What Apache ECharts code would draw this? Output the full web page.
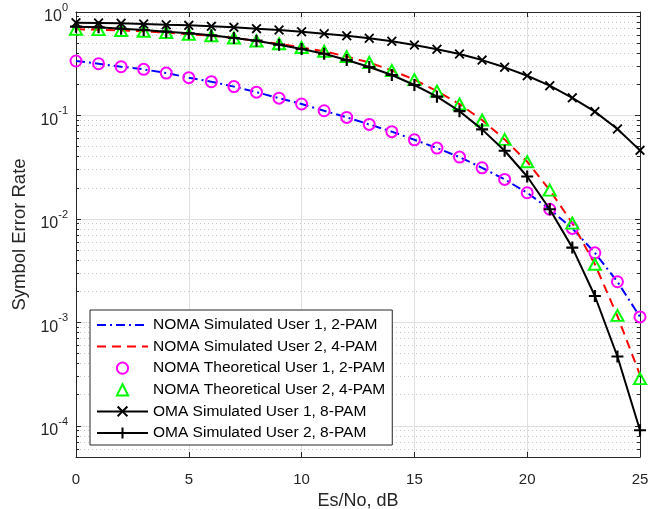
<!DOCTYPE html>
<html>
<head>
<meta charset="utf-8">
<script src="https://cdn.jsdelivr.net/npm/echarts@6/dist/echarts.min.js"></script>
<style>html,body{margin:0;padding:0;background:#fff}#c{width:648px;height:509px}</style>
</head>
<body>
<div id="c"></div>
<script>
const esNo = [0,1,2,3,4,5,6,7,8,9,10,11,12,13,14,15,16,17,18,19,20,21,22,23,24,25];
const xTicks = [0,5,10,15,20,25];
const yTickPowers = [0,-1,-2,-3,-4];

const nomaSimUser1 = [0.336,0.316,0.296,0.279,0.257,0.232,0.212,0.190,0.168,0.147,0.129,0.111,0.0958,0.082,0.0697,0.0582,0.0484,0.0396,0.0312,0.0241,0.0179,0.0124,0.0081,0.0047,0.00247,0.00113];
const nomaSimUser2 = [0.680,0.676,0.662,0.651,0.634,0.610,0.589,0.561,0.525,0.493,0.454,0.417,0.371,0.325,0.272,0.222,0.172,0.129,0.0903,0.0587,0.0357,0.0190,0.0091,0.00365,0.00115,0.00031];
const nomaTheoUser1 = [0.336,0.316,0.296,0.279,0.257,0.232,0.212,0.190,0.168,0.147,0.129,0.111,0.0958,0.082,0.0697,0.0582,0.0484,0.0396,0.0312,0.0241,0.0179,0.0124,0.0081,0.0047,0.00247,0.00113];
const nomaTheoUser2 = [0.680,0.676,0.662,0.651,0.634,0.610,0.589,0.561,0.525,0.493,0.454,0.417,0.371,0.325,0.272,0.222,0.172,0.129,0.0903,0.0587,0.0357,0.0190,0.0091,0.00365,0.00117,0.000286];
const omaUser1 = [0.788,0.783,0.778,0.766,0.754,0.743,0.727,0.711,0.690,0.670,0.645,0.616,0.590,0.557,0.521,0.480,0.436,0.393,0.343,0.292,0.242,0.194,0.148,0.109,0.0739,0.0460];
const omaUser2 = [0.721,0.711,0.690,0.670,0.645,0.622,0.595,0.561,0.528,0.483,0.439,0.395,0.343,0.294,0.246,0.197,0.152,0.110,0.0734,0.0456,0.0257,0.0124,0.00528,0.00180,0.000468,0.0000906];

const names = ['NOMA Simulated User 1, 2-PAM','NOMA Simulated User 2, 4-PAM','NOMA Theoretical User 1, 2-PAM','NOMA Theoretical User 2, 4-PAM','OMA Simulated User 1, 8-PAM','OMA Simulated User 2, 8-PAM'];

const pair = arr => esNo.map((x,i)=>[x,arr[i]]);
const FONT = 'Liberation Sans';
const AX = '#262626';
const X_PATH = 'path://M0,1.3L1.3,0L5,3.7L8.7,0L10,1.3L6.3,5L10,8.7L8.7,10L5,6.3L1.3,10L0,8.7L3.7,5Z';
const PLUS_PATH = 'path://M4.1,0H5.9V4.1H10V5.9H5.9V10H4.1V5.9H0V4.1H4.1Z';

function yLabel(v){
  const p = Math.log10(v);
  const r = Math.round(p);
  if (Math.abs(p-r) > 1e-6 || yTickPowers.indexOf(r) < 0) return '';
  return '{b|10}{s|' + r + '}';
}

const chart = echarts.init(document.getElementById('c'), null, {renderer:'canvas'});
const yCommon = {
  type:'log', logBase:10, min:5e-5, max:1,
  axisLine:{show:true, onZero:false, lineStyle:{color:AX, width:1}},
  axisTick:{show:true, inside:true, length:5, lineStyle:{color:AX}},
  minorTick:{show:true, splitNumber:9, length:3, lineStyle:{color:AX}},
};
chart.setOption({
  animation:false,
  backgroundColor:'#fff',
  grid:{left:76, right:8, top:12, bottom:52, containLabel:false, outerBoundsMode:'none'},
  xAxis:[{
    type:'value', min:0, max:25, interval:5,
    name:'Es/No, dB', nameLocation:'middle', nameGap:32,
    nameTextStyle:{fontFamily:FONT, fontSize:18, color:AX},
    axisLine:{show:true, onZero:false, lineStyle:{color:AX}},
    axisTick:{show:true, inside:true, length:5, lineStyle:{color:AX}},
    axisLabel:{fontFamily:FONT, fontSize:15, color:AX, margin:15,
      formatter: v => xTicks.indexOf(v) >= 0 ? String(v) : ''},
    splitLine:{show:true, lineStyle:{color:'#dfdfdf', width:1}}
  },{
    type:'value', min:0, max:25, interval:5, position:'top',
    axisLine:{show:true, onZero:false, lineStyle:{color:AX}},
    axisTick:{show:true, inside:true, length:5, lineStyle:{color:AX}},
    axisLabel:{show:false}, splitLine:{show:false}
  }],
  yAxis:[Object.assign({}, yCommon, {
    position:'left',
    name:'Symbol Error Rate', nameLocation:'middle', nameGap:46,
    nameTextStyle:{fontFamily:FONT, fontSize:18.5, color:AX},
    axisLabel:{margin:8, formatter:yLabel,
      rich:{
        b:{fontFamily:FONT, fontSize:16, color:AX, padding:[10,0,0,0], verticalAlign:'bottom'},
        s:{fontFamily:FONT, fontSize:11, color:AX, padding:[3.5,0,0,0], verticalAlign:'top'}
      }},
    splitLine:{show:true, lineStyle:{color:'#dfdfdf', width:1}},
    minorSplitLine:{show:true, lineStyle:{color:'#c8c8c8', width:1, type:[1,3]}}
  }), Object.assign({}, yCommon, {
    position:'right',
    axisLabel:{show:false}, splitLine:{show:false}, minorSplitLine:{show:false}
  })],
  legend:{
    orient:'vertical', left:90, top:310,
    backgroundColor:'#fff', borderColor:AX, borderWidth:1, borderRadius:0,
    padding:[7,7,4,6], itemGap:5.6, itemWidth:51, itemHeight:14,
    textStyle:{fontFamily:FONT, fontSize:15.5, color:'#000'},
    data:[
      {name:names[0], itemStyle:{opacity:0}},
      {name:names[1], itemStyle:{opacity:0}},
      names[2], names[3], names[4], names[5]
    ]
  },
  series:[
    {name:names[0], type:'line', data:pair(nomaSimUser1), showSymbol:false, symbol:'circle',
      lineStyle:{color:'#0000ff', width:2, type:[9,4,2,4]}, itemStyle:{color:'#0000ff', opacity:0}, z:2},
    {name:names[1], type:'line', data:pair(nomaSimUser2), showSymbol:false, symbol:'circle',
      lineStyle:{color:'#ff0000', width:2, type:[9,6]}, itemStyle:{color:'#ff0000', opacity:0}, z:3},
    {name:names[2], type:'line', data:pair(nomaTheoUser1), symbol:'circle', symbolSize:11,
      lineStyle:{opacity:0}, itemStyle:{color:'rgba(0,0,0,0)', borderColor:'#ff00ff', borderWidth:2}, z:4},
    {name:names[3], type:'line', data:pair(nomaTheoUser2), symbol:'triangle', symbolSize:[12,11],
      lineStyle:{opacity:0}, itemStyle:{color:'rgba(0,0,0,0)', borderColor:'#00ff00', borderWidth:2}, z:5},
    {name:names[4], type:'line', data:pair(omaUser1), symbol:X_PATH, symbolSize:10,
      lineStyle:{color:'#000', width:2}, itemStyle:{color:'#000'}, z:6},
    {name:names[5], type:'line', data:pair(omaUser2), symbol:PLUS_PATH, symbolSize:12,
      lineStyle:{color:'#000', width:2}, itemStyle:{color:'#000'}, z:7}
  ]
});
</script>
</body>
</html>
